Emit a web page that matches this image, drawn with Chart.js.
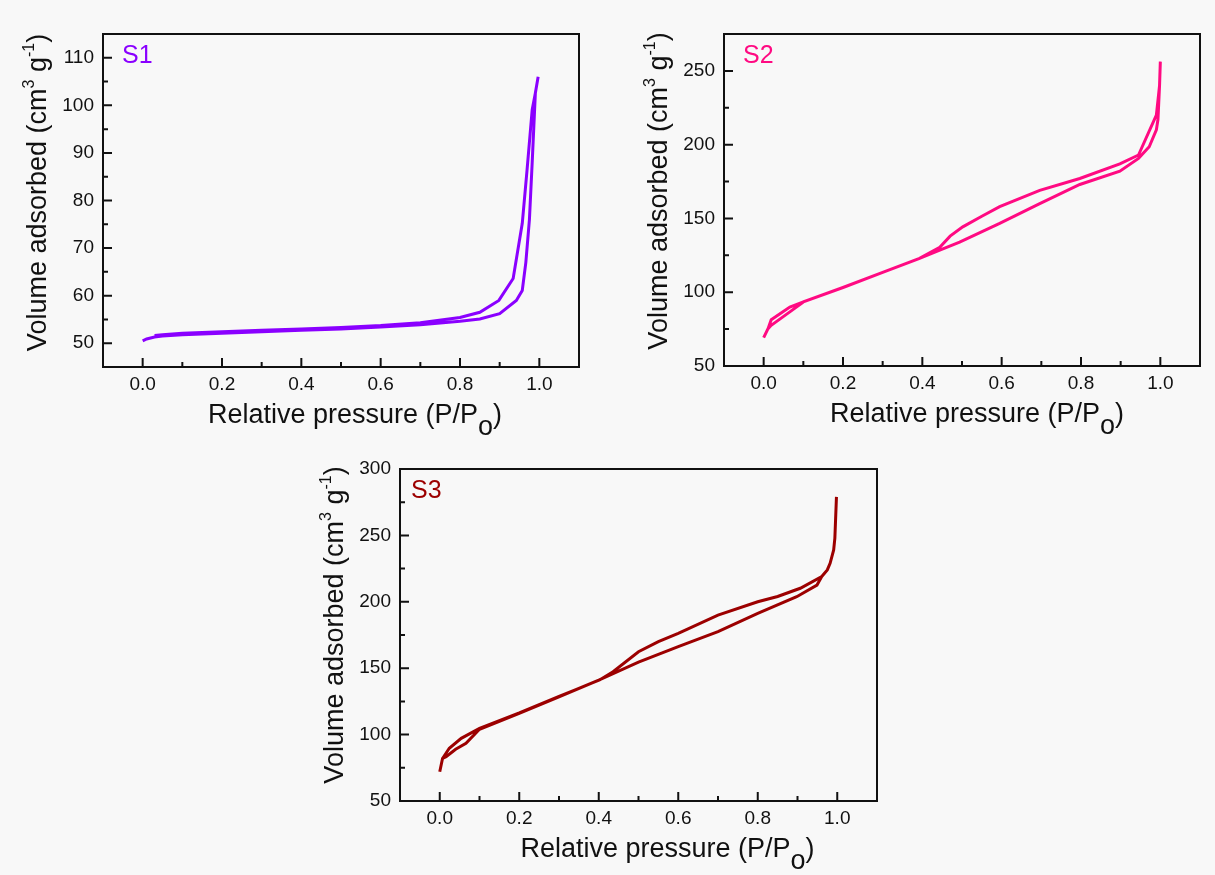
<!DOCTYPE html>
<html>
<head>
<meta charset="utf-8">
<script src="https://cdn.jsdelivr.net/npm/chart.js@4.4.1/dist/chart.umd.min.js"></script>
<style>
  html, body { margin: 0; padding: 0; background: #f8f8f8; }
  body { width: 1215px; height: 875px; position: relative; overflow: hidden; }
  .panel { position: absolute; }
</style>
</head>
<body>
<div class="panel" style="left:0;top:0"><canvas id="s1" width="600" height="440"></canvas></div>
<div class="panel" style="left:620px;top:0"><canvas id="s2" width="595" height="440"></canvas></div>
<div class="panel" style="left:296px;top:435px"><canvas id="s3" width="600" height="440"></canvas></div>
<script>
const FONT = '"Liberation Sans", Arial, sans-serif';

// relative pressure ticks shared by all panels
const pressureTicks = [0, 0.2, 0.4, 0.6, 0.8, 1.0];

// S1 isotherm (adsorption up, desorption back down)
const s1AdsP = [0.0, 0.01, 0.03, 0.05, 0.1, 0.2, 0.3, 0.4, 0.5, 0.6, 0.7, 0.8, 0.85, 0.9, 0.942, 0.957, 0.966, 0.975, 0.982, 0.99, 0.997];
const s1AdsV = [50.5, 50.9, 51.3, 51.5, 51.8, 52.1, 52.4, 52.7, 53.0, 53.4, 53.9, 54.6, 55.1, 56.2, 59.0, 61.1, 67, 76, 88, 102.6, 106];
const s1DesP = [0.99, 0.982, 0.969, 0.957, 0.934, 0.898, 0.85, 0.8, 0.7, 0.6, 0.5, 0.4, 0.3, 0.2, 0.1, 0.05, 0.03];
const s1DesV = [102.6, 99.1, 86.4, 75.2, 63.6, 59.0, 56.5, 55.4, 54.3, 53.7, 53.3, 53.0, 52.7, 52.4, 52.1, 51.8, 51.6];
const s1Ticks = [50, 60, 70, 80, 90, 100, 110];

// S2
const s2AdsP = [0.0, 0.011, 0.019, 0.066, 0.1, 0.2, 0.3, 0.393, 0.444, 0.494, 0.595, 0.696, 0.797, 0.898, 0.945, 0.972, 0.99, 0.994, 0.998, 1.0];
const s2AdsV = [69.2, 75.3, 77.6, 86.7, 93.4, 103.2, 113.5, 122.9, 128.5, 134, 146.6, 160, 173, 182, 190.7, 198.6, 210, 217, 240, 256.3];
const s2DesP = [0.998, 0.99, 0.945, 0.898, 0.797, 0.696, 0.595, 0.55, 0.502, 0.47, 0.444, 0.393, 0.3, 0.2, 0.1, 0.066, 0.019, 0.011];
const s2DesV = [240, 220, 193, 187, 177.1, 169, 158, 151.5, 144.3, 138, 130.5, 122.9, 113.5, 103.2, 93.4, 90, 81.4, 75.3];
const s2Ticks = [50, 100, 150, 200, 250];

// S3
const s3AdsP = [0.0, 0.007, 0.016, 0.04, 0.066, 0.1, 0.2, 0.3, 0.4, 0.5, 0.6, 0.7, 0.8, 0.898, 0.949, 0.961, 0.975, 0.982, 0.991, 0.994, 0.998];
const s3AdsV = [72, 82, 83.4, 89, 93.4, 104, 116, 128.5, 141, 154.5, 166.2, 177.5, 191.3, 203.8, 212.6, 219, 224, 229, 239, 248, 279];
const s3DesP = [0.994, 0.991, 0.982, 0.975, 0.961, 0.907, 0.85, 0.8, 0.7, 0.6, 0.55, 0.5, 0.436, 0.402, 0.3, 0.2, 0.1, 0.054, 0.024, 0.007];
const s3DesV = [248, 239, 229, 224, 219, 210.2, 204, 200, 190, 176.3, 170, 162.4, 147.4, 141.1, 128.8, 116.3, 104.7, 97.2, 89.7, 82];
const s3Ticks = [50, 100, 150, 200, 250, 300];

const xTitleRuns = [
  { t: 'Relative pressure (P/P', size: 27 },
  { t: 'o', size: 27, dy: 12 },
  { t: ')', size: 27 }
];
const yTitleRuns = [
  { t: 'Volume adsorbed (cm', size: 27 },
  { t: '3', size: 16, dy: -12 },
  { t: ' g', size: 27 },
  { t: '-1', size: 16, dy: -12 },
  { t: ')', size: 27 }
];

function runsWidth(ctx, runs) {
  let w = 0;
  runs.forEach(r => { ctx.font = r.size + 'px ' + FONT; w += ctx.measureText(r.t).width; });
  return w;
}
function drawRuns(ctx, runs, x, y) {
  runs.forEach(r => {
    ctx.font = r.size + 'px ' + FONT;
    ctx.fillText(r.t, x, y + (r.dy || 0));
    x += ctx.measureText(r.t).width;
  });
}

// minor ticks halfway between majors, also one step beyond each end if inside range
function minorTicks(major, min, max) {
  const step = major[1] - major[0];
  const out = [];
  for (let v = major[0] - step / 2; v < max + 1e-9; v += step) {
    if (v > min + 1e-9 && v < max - 1e-9) out.push(v);
  }
  return out;
}

function framePlugin(o) {
  return {
    id: 'frame',
    afterDraw(chart) {
      const ctx = chart.ctx;
      const a = chart.chartArea;
      const xs = chart.scales.x, ys = chart.scales.y;
      ctx.save();
      ctx.strokeStyle = '#111';
      ctx.lineWidth = 2;
      ctx.strokeRect(a.left, a.top, a.right - a.left, a.bottom - a.top);
      ctx.beginPath();
      pressureTicks.forEach(v => { const p = xs.getPixelForValue(v); ctx.moveTo(p, a.bottom); ctx.lineTo(p, a.bottom - 9); });
      minorTicks(pressureTicks, -0.1, 1.1).forEach(v => { const p = xs.getPixelForValue(v); ctx.moveTo(p, a.bottom); ctx.lineTo(p, a.bottom - 5); });
      o.yTicks.forEach(v => { const p = ys.getPixelForValue(v); ctx.moveTo(a.left, p); ctx.lineTo(a.left + 9, p); });
      minorTicks(o.yTicks, o.yMin, o.yMax).forEach(v => { const p = ys.getPixelForValue(v); ctx.moveTo(a.left, p); ctx.lineTo(a.left + 5, p); });
      ctx.stroke();

      // axis titles
      ctx.fillStyle = '#111';
      ctx.textBaseline = 'alphabetic';
      ctx.textAlign = 'left';
      const xw = runsWidth(ctx, xTitleRuns);
      drawRuns(ctx, xTitleRuns, (a.left + a.right) / 2 + o.xTitleShift - xw / 2, a.bottom + 56);
      const yw = runsWidth(ctx, yTitleRuns);
      ctx.save();
      ctx.translate(a.left - 57, (a.top + a.bottom) / 2 + o.yTitleShift);
      ctx.rotate(-Math.PI / 2);
      drawRuns(ctx, yTitleRuns, -yw / 2, 0);
      ctx.restore();

      // sample label
      ctx.font = '25px ' + FONT;
      ctx.fillStyle = o.color;
      ctx.fillText(o.label, a.left + o.labelDx, a.top + 29);
      ctx.restore();
    }
  };
}

function makePanel(id, o) {
  const ads = o.adsP.map((p, i) => ({ x: p, y: o.adsV[i] }));
  const des = o.desP.map((p, i) => ({ x: p, y: o.desV[i] }));
  const tickFont = { family: FONT, size: 19 };
  return new Chart(document.getElementById(id), {
    type: 'scatter',
    data: {
      datasets: [{
        data: ads.concat(des),
        showLine: true,
        borderColor: o.color,
        borderWidth: 3,
        pointRadius: 0,
        tension: 0,
        fill: false
      }]
    },
    options: {
      responsive: false,
      animation: false,
      events: [],
      layout: { padding: { top: 34, right: o.padRight, left: 0, bottom: 0 } },
      plugins: { legend: { display: false }, tooltip: { enabled: false } },
      scales: {
        x: {
          type: 'linear', min: -0.1, max: 1.1,
          grid: { display: false, drawTicks: false }, border: { display: false },
          afterBuildTicks: s => { s.ticks = pressureTicks.map(v => ({ value: v })); },
          afterFit: s => { s.height = o.xAxisH; },
          ticks: { padding: 6, font: tickFont, color: '#111', maxRotation: 0, autoSkip: false, callback: v => v.toFixed(1) }
        },
        y: {
          type: 'linear', min: o.yMin, max: o.yMax,
          grid: { display: false, drawTicks: false }, border: { display: false },
          afterBuildTicks: s => { s.ticks = o.yTicks.map(v => ({ value: v })); },
          afterFit: s => { s.width = o.yAxisW; },
          ticks: { padding: 9, font: tickFont, color: '#111', autoSkip: false, callback: v => String(v) }
        }
      }
    },
    plugins: [framePlugin(o)]
  });
}

makePanel('s1', {
  label: 'S1', color: '#8a00ff',
  adsP: s1AdsP, adsV: s1AdsV, desP: s1DesP, desV: s1DesV,
  yMin: 45, yMax: 115, yTicks: s1Ticks,
  yAxisW: 103, xAxisH: 73, padRight: 21,
  xTitleShift: 14, yTitleShift: -8, labelDx: 19
});
makePanel('s2', {
  label: 'S2', color: '#ff0a82',
  adsP: s2AdsP, adsV: s2AdsV, desP: s2DesP, desV: s2DesV,
  yMin: 50, yMax: 275, yTicks: s2Ticks,
  yAxisW: 104, xAxisH: 74, padRight: 15,
  xTitleShift: 15, yTitleShift: -9, labelDx: 19
});
makePanel('s3', {
  label: 'S3', color: '#9c0000',
  adsP: s3AdsP, adsV: s3AdsV, desP: s3DesP, desV: s3DesV,
  yMin: 50, yMax: 300, yTicks: s3Ticks,
  yAxisW: 104, xAxisH: 74, padRight: 19,
  xTitleShift: 29, yTitleShift: -10, labelDx: 11
});
</script>
</body>
</html>
